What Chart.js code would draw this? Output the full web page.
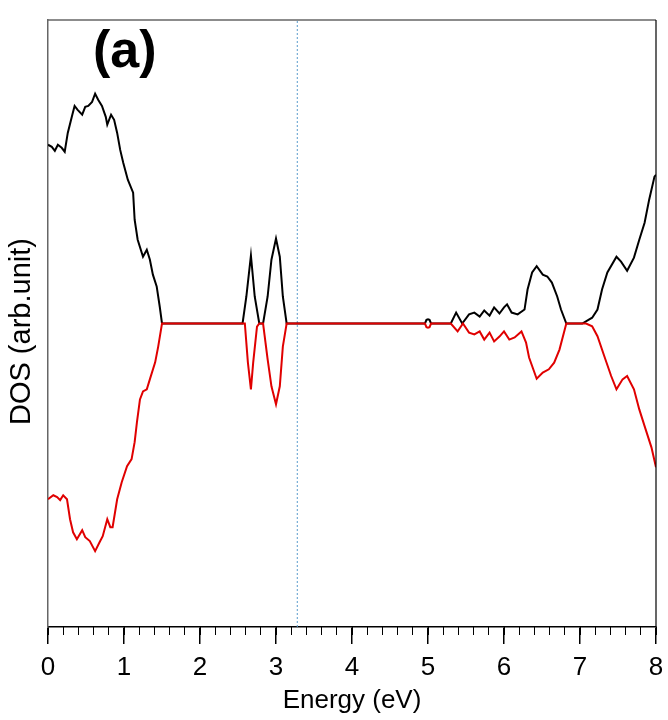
<!DOCTYPE html>
<html>
<head>
<meta charset="utf-8">
<title>DOS (a)</title>
<script src="https://cdn.jsdelivr.net/npm/chart.js@4/dist/chart.umd.min.js"></script>
<style>
  html, body { margin: 0; padding: 0; background: #fff; }
  #wrap { width: 668px; height: 720px; }
</style>
</head>
<body>
<div id="wrap"><canvas id="dosChart" width="668" height="720"></canvas></div>
<script>
// spin-up DOS (black, drawn above zero)
const energyUp = [
  0, 0.05, 0.09, 0.13, 0.18, 0.22, 0.26, 0.32, 0.35, 0.39, 0.45, 0.49, 0.53, 0.58, 0.62, 0.66,
  0.71, 0.76, 0.78, 0.83, 0.87, 0.91, 0.95, 0.99, 1.05, 1.12, 1.14, 1.18, 1.25, 1.30, 1.34,
  1.38, 1.43, 1.47, 1.50,
  2.56, 2.61, 2.67, 2.72, 2.78, 2.83, 2.89, 2.94, 3.00, 3.05, 3.09, 3.14,
  4.96, 4.98, 5.00, 5.02, 5.04,
  5.30, 5.37, 5.45, 5.54, 5.61, 5.68, 5.74, 5.81, 5.87, 5.94, 6.00, 6.04, 6.10, 6.18, 6.27,
  6.31, 6.37, 6.43, 6.51, 6.57, 6.63, 6.70, 6.75, 6.82,
  7.03, 7.16, 7.23, 7.29, 7.36, 7.48, 7.54, 7.62, 7.71, 7.78, 7.85, 7.91, 7.98, 8.00
];
const dosUp = [
  0.589, 0.582, 0.569, 0.589, 0.579, 0.566, 0.628, 0.688, 0.717, 0.704, 0.688, 0.714, 0.717, 0.730, 0.757, 0.737,
  0.717, 0.681, 0.655, 0.688, 0.671, 0.628, 0.572, 0.530, 0.474, 0.431, 0.342, 0.276, 0.220, 0.243, 0.211,
  0.161, 0.122, 0.056, 0,
  0, 0.089, 0.224, 0.089, 0, 0, 0.089, 0.210, 0.280, 0.220, 0.089, 0,
  0, 0.012, 0.014, 0.012, 0,
  0, 0.036, 0, 0.030, 0.036, 0.023, 0.043, 0.026, 0.053, 0.033, 0.053, 0.063, 0.036, 0.030, 0.046,
  0.112, 0.168, 0.189, 0.161, 0.155, 0.135, 0.089, 0.046, 0,
  0, 0.019, 0.046, 0.112, 0.168, 0.220, 0.204, 0.174, 0.217, 0.276, 0.332, 0.408, 0.484, 0.490
];

// spin-down DOS (red, drawn below zero)
const energyDown = [
  0, 0.07, 0.12, 0.16, 0.20, 0.25, 0.29, 0.33, 0.38, 0.45, 0.49, 0.55, 0.62, 0.68, 0.72, 0.78,
  0.82, 0.85, 0.91, 0.97, 1.04, 1.10, 1.14, 1.17, 1.21, 1.25, 1.30, 1.34, 1.41, 1.45, 1.50,
  2.59, 2.63, 2.67, 2.70, 2.75, 2.78, 2.83, 2.89, 2.94, 3.00, 3.05, 3.09, 3.14,
  4.96, 4.98, 5.00, 5.02, 5.04,
  5.30, 5.39, 5.46, 5.54, 5.61, 5.68, 5.74, 5.81, 5.87, 5.94, 6.00, 6.07, 6.14, 6.23, 6.29,
  6.33, 6.43, 6.51, 6.59, 6.66, 6.73, 6.82,
  7.08, 7.16, 7.23, 7.32, 7.41, 7.48, 7.56, 7.62, 7.71, 7.78, 7.85, 7.94, 8.00
];
const dosDown = [
  -0.579, -0.566, -0.572, -0.582, -0.566, -0.579, -0.645, -0.688, -0.711, -0.681, -0.704, -0.717, -0.750, -0.720, -0.701, -0.645,
  -0.671, -0.671, -0.579, -0.523, -0.470, -0.447, -0.391, -0.326, -0.250, -0.224, -0.217, -0.184, -0.128, -0.076, 0,
  0, -0.128, -0.217, -0.128, -0.010, 0, 0, -0.118, -0.207, -0.266, -0.207, -0.076, 0,
  0, -0.012, -0.014, -0.012, 0,
  0, -0.026, 0, -0.030, -0.036, -0.026, -0.053, -0.030, -0.059, -0.043, -0.026, -0.053, -0.046, -0.026, -0.063,
  -0.112, -0.182, -0.162, -0.151, -0.129, -0.086, 0,
  0, -0.009, -0.042, -0.108, -0.173, -0.217, -0.184, -0.173, -0.217, -0.283, -0.338, -0.408, -0.474
];

const gapEnergy = 3.28;          // dotted marker line
const xTicks = [0, 8, 1, 0.2];   // min, max, major step, minor step
const yRange = [-1, 1];

function toPoints(xs, ys) {
  return xs.map((x, i) => ({ x: x, y: ys[i] }));
}

const labelFont = { family: "'Liberation Sans', Arial, sans-serif", size: 26, lineHeight: 1.2 };

// top/right frame lines and the (a) panel tag
const framePlugin = {
  id: "frame",
  afterDraw(chart) {
    const { ctx, chartArea } = chart;
    ctx.save();
    ctx.lineWidth = 1.5;
    ctx.strokeStyle = "#666";
    ctx.beginPath();
    ctx.moveTo(chartArea.left, chartArea.top);
    ctx.lineTo(chartArea.right, chartArea.top);
    ctx.stroke();
    ctx.strokeStyle = "#000";
    ctx.lineWidth = 1.2;
    ctx.beginPath();
    ctx.moveTo(chartArea.right, chartArea.top);
    ctx.lineTo(chartArea.right, chartArea.bottom);
    ctx.stroke();
    ctx.fillStyle = "#000";
    ctx.font = "bold 52px 'Liberation Sans', Arial, sans-serif";
    ctx.textBaseline = "alphabetic";
    ctx.fillText("(a)", 93, 67);
    ctx.restore();
  }
};

new Chart(document.getElementById("dosChart").getContext("2d"), {
  type: "line",
  data: {
    datasets: [
      { label: "down", data: toPoints(energyDown, dosDown), borderColor: "#e00000", order: 0 },
      { label: "up", data: toPoints(energyUp, dosUp), borderColor: "#000000", order: 1 },
      {
        label: "gap",
        data: [{ x: gapEnergy, y: yRange[0] }, { x: gapEnergy, y: yRange[1] }],
        borderColor: "#5a9ccc", borderWidth: 1, borderDash: [2, 2], order: 2
      }
    ]
  },
  options: {
    responsive: false,
    animation: false,
    devicePixelRatio: 1,
    layout: { padding: { top: 20, right: 12, left: 0, bottom: 0 } },
    elements: {
      point: { radius: 0 },
      line: { borderWidth: 2, tension: 0, fill: false }
    },
    plugins: { legend: { display: false }, tooltip: { enabled: false } },
    scales: {
      x: {
        type: "linear", position: "bottom", weight: 1,
        min: xTicks[0], max: xTicks[1],
        ticks: { stepSize: xTicks[2], autoSkip: false, maxRotation: 0, color: "#000", font: labelFont, padding: 8 },
        grid: { drawOnChartArea: false, drawTicks: true, tickLength: 17, color: "#000", lineWidth: 1.5 },
        border: { display: true, color: "#000", width: 1.5 },
        title: { display: true, text: "Energy (eV)", color: "#000", font: labelFont, padding: { top: 0, bottom: 4 } },
        afterFit(scale) { scale.height = 93; scale.paddingLeft = 0; scale.paddingRight = 0; }
      },
      xMinor: {
        type: "linear", position: "bottom", weight: 0,
        min: xTicks[0], max: xTicks[1],
        ticks: { stepSize: xTicks[3], display: false },
        grid: { drawOnChartArea: false, drawTicks: true, tickLength: 8, color: "#000", lineWidth: 1 },
        border: { display: false },
        afterFit(scale) { scale.height = 0; scale.paddingLeft = 0; scale.paddingRight = 0; }
      },
      y: {
        type: "linear", min: yRange[0], max: yRange[1],
        ticks: { display: false },
        grid: { display: false, drawTicks: false },
        border: { display: true, color: "#666", width: 1.5 },
        title: {
          display: true, text: "DOS (arb.unit)  ", color: "#000",
          font: { family: "'Liberation Sans', Arial, sans-serif", size: 29, lineHeight: 1.2 },
          padding: { top: 5, bottom: 0 }
        },
        afterFit(scale) { scale.width = 48; scale.paddingTop = 0; scale.paddingBottom = 0; }
      }
    }
  },
  plugins: [framePlugin]
});
</script>
</body>
</html>
